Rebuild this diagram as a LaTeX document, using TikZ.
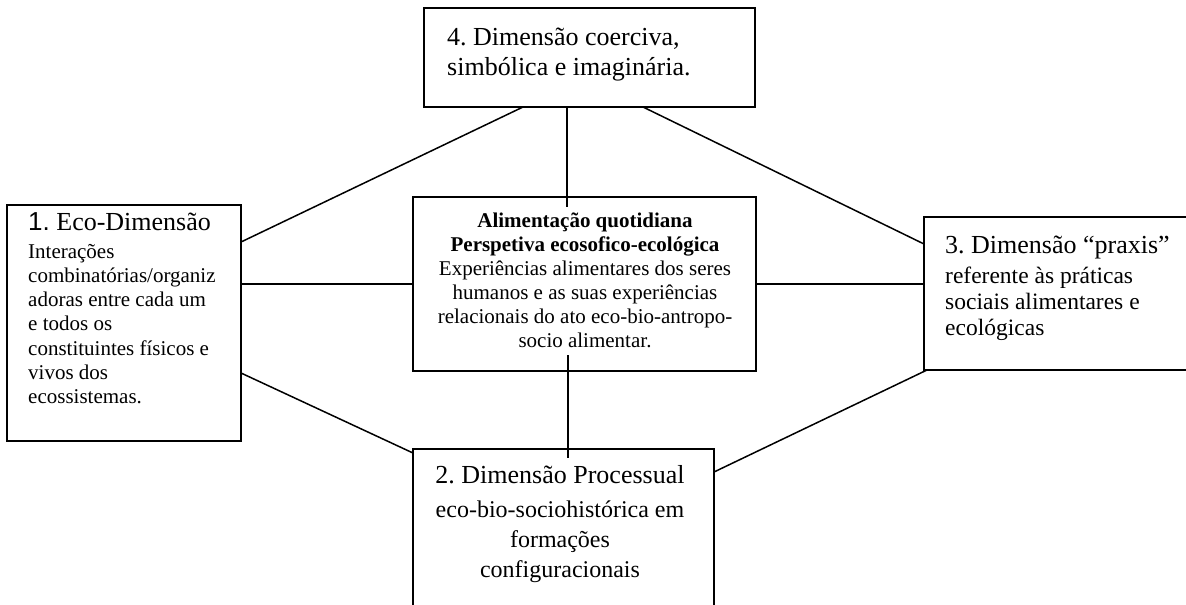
\documentclass[tikz,border=0pt]{standalone}
\usepackage{fontspec}
\setmainfont{Liberation Serif}
\newfontfamily\arialfont{Liberation Sans}
\newcommand{\alto}{\rule{0pt}{20pt}}
\frenchspacing
\tikzset{
  caixa/.style={draw, line width=1.6pt, inner sep=0pt, outer sep=0pt},
  ligacao/.style={line width=1.5pt},
  texto/.style={inner sep=0pt, align=left, anchor=north west},
}
\begin{document}
\begin{tikzpicture}[x=1pt,y=-1pt] % cinco dimensoes da alimentacao
\clip (0,0) rectangle (1186,605);

\node[caixa, minimum width=234pt, minimum height=236pt] (eco) at (124,323) {};
\node[caixa, minimum width=343pt, minimum height=174pt] (alim) at (584.5,284) {};
\node[caixa, minimum width=331pt, minimum height=99pt] (coerc) at (589.5,57.5) {};
\node[caixa, minimum width=280pt, minimum height=153pt] (praxis) at (1064,293.5) {};
\node[caixa, minimum width=301pt, minimum height=190pt] (proc) at (563.5,544) {};

\node[texto, font=\fontsize{21}{24.2}\selectfont] (eco-txt) at (28,210)
  {\alto{\fontsize{26}{30}\selectfont{\arialfont 1.} Eco-Dimensão}\\[3.8pt]
   Interações\\ combinatórias/organiz\\ adoras entre cada um\\ e todos os\\
   constituintes físicos e\\ vivos dos\\ ecossistemas.};
\node[texto, align=center, anchor=north, font=\fontsize{21}{24}\selectfont] (alim-txt) at (585,207)
  {\alto\textbf{Alimentação quotidiana}\\ \textbf{Perspetiva ecosofico-ecológica}\\
   Experiências alimentares dos seres\\ humanos e as suas experiências\\
   relacionais do ato eco-bio-antropo-\\ socio alimentar.};
\node[texto, font=\fontsize{26}{30}\selectfont] (coerc-txt) at (447,25)
  {\alto 4. Dimensão coerciva,\\ simbólica e imaginária.};
\node[texto, font=\fontsize{23.5}{26}\selectfont] (praxis-txt) at (945,233)
  {\alto{\fontsize{26}{30}\selectfont 3. Dimensão “praxis”}\\[4pt]
   referente às práticas\\ sociais alimentares e\\ ecológicas};
\node[texto, align=center, anchor=north, font=\fontsize{24}{30}\selectfont] (proc-txt) at (560,463)
  {\alto{\fontsize{26}{30}\selectfont 2. Dimensão Processual}\\[4pt]
   eco-bio-sociohistórica em\\ formações\\ configuracionais};

\draw[ligacao] ([xshift=99pt]coerc.south west) -- ([yshift=-37pt]eco.north east);
\draw[ligacao, shorten >=-10pt] ([xshift=143pt]coerc.south west) -- ([xshift=154pt]alim.north west);
\draw[ligacao] ([xshift=219pt]coerc.south west) -- ([yshift=-27pt]praxis.north west);
\draw[ligacao] (eco.east |- alim.west) -- (alim.west);
\draw[ligacao] (alim.east) -- (alim.east -| praxis.west);
\draw[ligacao] ([yshift=68pt]eco.south east) -- ([yshift=-4pt]proc.north west);
\draw[ligacao, shorten <=-16pt, shorten >=-9pt] ([xshift=155pt]alim.south west) -- ([xshift=155pt]proc.north west);
\draw[ligacao] ([yshift=-23pt]proc.north east) -- ([xshift=3pt]praxis.south west);

\end{tikzpicture}
\end{document}
